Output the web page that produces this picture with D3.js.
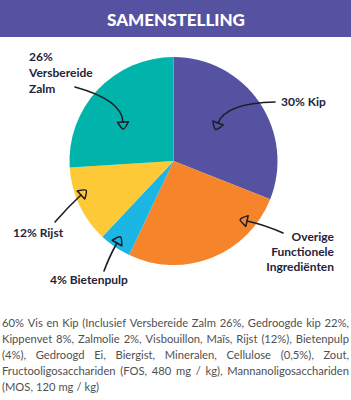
<!DOCTYPE html>
<html>
<head>
<meta charset="utf-8">
<script src="https://cdn.jsdelivr.net/npm/d3@7"></script>
<style>
  body { margin: 0; background: #fff; }
  svg { display: block; }
</style>
</head>
<body>
<svg id="chart"></svg>
<script>
// Pie data, clockwise from 12 o'clock (slice sizes as drawn in the picture)
const categories = ["Kip", "Overige Functionele Ingrediënten", "Bietenpulp", "Rijst", "Versbereide Zalm"];
const values = [31, 26, 5, 12, 26];
const colors = ["#5552a1", "#f5842a", "#1bb6e3", "#fec936", "#00b4ab"];

// Label text lines per slice
const labelLines = [
  ["30% Kip"],
  ["Overige", "Functionele", "Ingrediënten"],
  ["4% Bietenpulp"],
  ["12% Rijst"],
  ["26%", "Versbereide", "Zalm"]
];

// Ingredient text lines under the chart
const ingredientLines = [
  "60% Vis en Kip (Inclusief Versbereide Zalm 26%, Gedroogde kip 22%,",
  "Kippenvet 8%, Zalmolie 2%, Visbouillon, Maïs, Rijst (12%), Bietenpulp",
  "(4%), Gedroogd Ei, Biergist, Mineralen, Cellulose (0,5%), Zout,",
  "Fructooligosacchariden (FOS, 480 mg / kg), Mannanoligosacchariden",
  "(MOS, 120 mg / kg)"
];

const width = 351, height = 400;
const cx = 173.5, cy = 161, radius = 104;

const svg = d3.select("#chart").attr("width", width).attr("height", height);

// Title bar
svg.append("rect").attr("x", 0).attr("y", 0).attr("width", width).attr("height", 37).attr("fill", "#5552a1");
svg.append("text")
  .attr("x", 176).attr("y", 25.5)
  .attr("text-anchor", "middle")
  .style("font-family", "Lato, sans-serif")
  .style("font-weight", "900")
  .style("font-size", "17px")
  .style("fill", "#fff")
  .text("SAMENSTELLING");

// Pie
const pie = d3.pie().sort(null).value((d) => d.value);
const arc = d3.arc().innerRadius(0).outerRadius(radius);
const data = categories.map((c, i) => ({ name: c, value: values[i], color: colors[i] }));

svg.append("g")
  .attr("transform", `translate(${cx},${cy})`)
  .selectAll("path")
  .data(pie(data))
  .enter()
  .append("path")
  .attr("d", arc)
  .attr("fill", (d) => d.data.color);

// Label layout (anchor, x, first baseline, line height)
const labelLayout = [
  { x: 281, y: 106, anchor: "start", lh: 15 },
  { x: 334, y: 241, anchor: "end", lh: 15 },
  { x: 50, y: 284, anchor: "start", lh: 15 },
  { x: 13, y: 237, anchor: "start", lh: 15 },
  { x: 29, y: 61, anchor: "start", lh: 16 }
];

labelLines.forEach((lines, i) => {
  const l = labelLayout[i];
  const t = svg.append("text")
    .attr("text-anchor", l.anchor)
    .style("font-family", "Lato, sans-serif")
    .style("font-weight", "700")
    .style("font-size", "12px")
    .style("fill", "#23233a");
  lines.forEach((line, j) => {
    t.append("tspan").attr("x", l.x).attr("y", l.y + j * l.lh).text(line);
  });
});

// Hand-drawn style arrows: start, control, end
const arrows = [
  { s: [275, 102], c: [226, 103], e: [218, 123] },
  { s: [283, 233], c: [265, 225], e: [247, 221] },
  { s: [104, 271], c: [110, 255], e: [117, 243] },
  { s: [55, 222], c: [68, 207], e: [81, 195] },
  { s: [75, 87], c: [122, 100], e: [123, 122] }
];

arrows.forEach((a) => {
  svg.append("path")
    .attr("d", `M${a.s[0]},${a.s[1]} Q${a.c[0]},${a.c[1]} ${a.e[0]},${a.e[1]}`)
    .attr("fill", "none")
    .attr("stroke", "#1d1d26")
    .attr("stroke-width", 1.6)
    .attr("stroke-linecap", "round");
  const dx = a.e[0] - a.c[0], dy = a.e[1] - a.c[1];
  const len = Math.hypot(dx, dy);
  const ux = dx / len, uy = dy / len;
  const px = -uy, py = ux;
  const tip = [a.e[0] + ux * 7, a.e[1] + uy * 7];
  const b1 = [a.e[0] + px * 5.5, a.e[1] + py * 5.5];
  const b2 = [a.e[0] - px * 5.5, a.e[1] - py * 5.5];
  svg.append("path")
    .attr("d", `M${a.e[0]},${a.e[1]} L${b1[0]},${b1[1]} Q${tip[0] + px * 1.5},${tip[1] + py * 1.5} ${tip[0]},${tip[1]} Q${tip[0] - px * 1.5},${tip[1] - py * 1.5} ${b2[0]},${b2[1]} Z`)
    .attr("fill", "none")
    .attr("stroke", "#1d1d26")
    .attr("stroke-width", 1.5)
    .attr("stroke-linejoin", "round");
});

// Justified ingredient paragraph
const textLeft = 2, textRight = 349;
ingredientLines.forEach((line, i) => {
  const y = 327 + i * 16;
  const words = line.split(" ");
  const g = svg.append("g")
    .style("font-family", "Lato, sans-serif")
    .style("font-size", "11.2px")
    .style("fill", "#505050");
  const nodes = words.map((w) => g.append("text").attr("y", y).text(w));
  const widths = nodes.map((n) => n.node().getComputedTextLength());
  const total = d3.sum(widths);
  const last = i === ingredientLines.length - 1;
  const gap = last ? 3 : (textRight - textLeft - total) / (words.length - 1);
  let x = textLeft;
  nodes.forEach((n, k) => {
    n.attr("x", x);
    x += widths[k] + gap;
  });
});
</script>
</body>
</html>
